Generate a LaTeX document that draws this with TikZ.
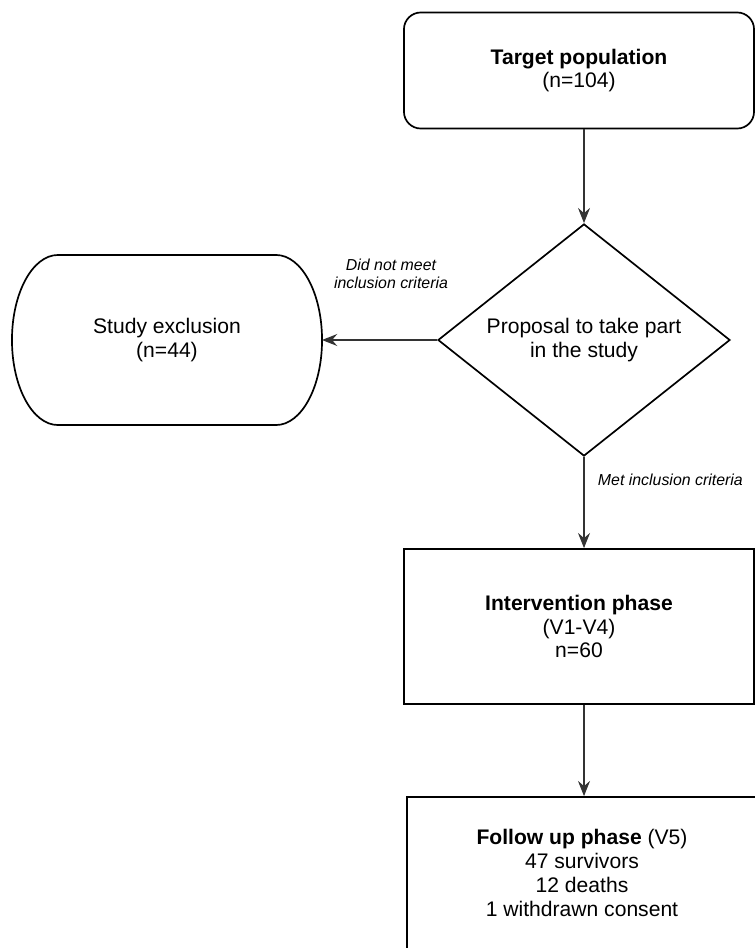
\documentclass[tikz,border=0pt]{standalone}
\usepackage{fontspec}
\setmainfont{Liberation Sans}
\usepackage{tikz}
\usetikzlibrary{shapes.geometric,arrows.meta}

\begin{document}
\begin{tikzpicture}[x=0.025cm, y=-0.025cm,
                box/.style={draw, line width=1.2pt, align=center,
                            font=\fontsize{15}{17}\selectfont},
                flow/.style={draw=black!80, line width=0.8pt,
                             -{Stealth[length=3.8mm,width=3mm,inset=1.3mm]}},
                note/.style={align=center, font=\fontsize{11.3}{13}\selectfont\itshape}]
                \useasboundingbox (0,0) rectangle (755,948);
                \node[box, rounded corners=0.42cm, minimum width=8.75cm, minimum height=2.9cm]
                        (target) at (579,70.5) {\textbf{Target population}\\(n=104)};
                \node[box, diamond, aspect=1.26, inner sep=0pt, minimum width=7.3cm, minimum height=5.8cm]
                        (prop) at (584,340) {Proposal to take part\\in the study};
                \node[box, draw=none, outer sep=0pt, minimum width=7.75cm, minimum height=4.25cm]
                        (excl) at (167,340) {Study exclusion\\(n=44)};
                \draw[line width=1.2pt] ([xshift=1.15cm]excl.north west) -- ([xshift=-1.15cm]excl.north east)
                        arc[start angle=90, end angle=-90, x radius=1.15cm, y radius=2.125cm]
                        -- ([xshift=1.15cm]excl.south west)
                        arc[start angle=270, end angle=90, x radius=1.15cm, y radius=2.125cm] -- cycle;
                \node[box, minimum width=8.75cm, minimum height=3.875cm]
                        (interv) at (579,626.5) {\textbf{Intervention phase}\\(V1-V4)\\n=60};
                \node[box, minimum width=8.75cm, minimum height=3.8cm]
                        (follow) at (582,873) {\textbf{Follow up phase} (V5)\\47 survivors\\12 deaths\\1 withdrawn consent};
                \node[note] (nomeet) at (391,274) {Did not meet\\inclusion criteria};
                \node[note, anchor=west] (met) at (593,480) {Met inclusion criteria};
                \draw[flow] (target.south -| prop.north) -- (prop.north);
                \draw[flow] (prop.west) -- (prop.west -| excl.east);
                \draw[flow] (prop.south) -- (prop.south |- interv.north);
                \draw[flow] (interv.south -| prop.south) -- (prop.south |- follow.north);
            \end{tikzpicture}
\end{document}
